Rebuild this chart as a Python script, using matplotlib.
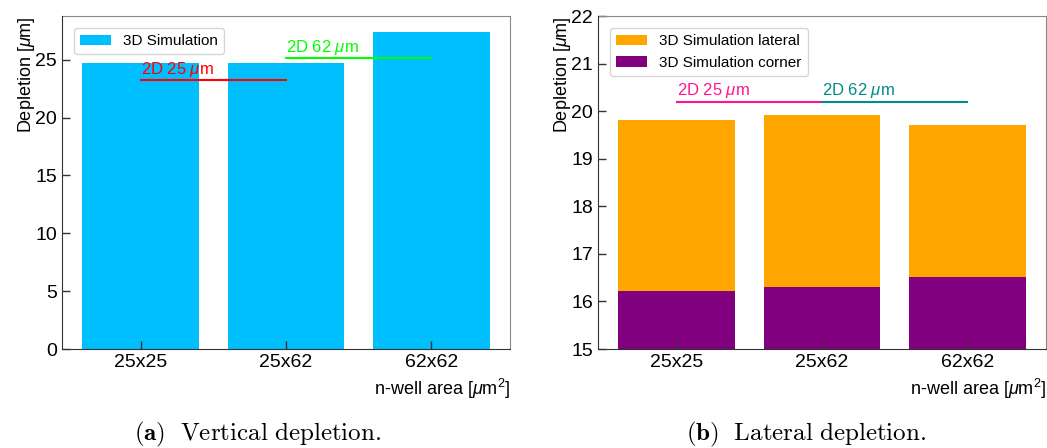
import matplotlib
matplotlib.use("Agg")
import matplotlib.pyplot as plt

plt.rcParams['font.family'] = ['Liberation Sans', 'DejaVu Sans']
plt.rcParams['mathtext.fontset'] = 'custom'
plt.rcParams['mathtext.rm'] = 'Liberation Sans'
plt.rcParams['mathtext.it'] = 'Liberation Sans:italic'
plt.rcParams['mathtext.bf'] = 'Liberation Sans:bold'

categories = ["25x25", "25x62", "62x62"]
vertical_3d = [24.7, 24.7, 27.4]
vert_2d_25 = 23.2
vert_2d_62 = 25.1
lateral_3d = [19.81, 19.92, 19.71]
corner_3d = [16.22, 16.30, 16.51]
lat_2d_25 = 20.2
lat_2d_62 = 20.2

fig = plt.figure(figsize=(10.47, 4.48), dpi=100)
ax1 = fig.add_axes([62/1047, 1-349/448, (510-62)/1047, (349-16)/448])
ax2 = fig.add_axes([598/1047, 1-349/448, (1046-598)/1047, (349-16)/448])

x = list(range(len(categories)))

# Left panel
ax1.bar(x, vertical_3d, width=0.8, color='#00BFFF', label='3D Simulation')
ax1.plot([x[0], x[1]], [vert_2d_25, vert_2d_25], color='red', lw=1.5)
ax1.text(x[0], vert_2d_25 + 0.1, r'2D 25 $\mu$m', color='red', fontsize=12,
         ha='left', va='bottom')
ax1.plot([x[1], x[2]], [vert_2d_62, vert_2d_62], color='#00FF00', lw=1.5)
ax1.text(x[1], vert_2d_62 + 0.1, r'2D 62 $\mu$m', color='#00FF00', fontsize=12,
         ha='left', va='bottom')
ax1.set_xlim(-0.54, 2.54)
ax1.set_ylim(0, 28.77)
ax1.set_yticks([0, 5, 10, 15, 20, 25])
ax1.set_ylabel(r'Depletion [$\mu$m]', fontsize=13, loc='top', labelpad=-1)
ax1.legend(loc='upper left', fontsize=11, frameon=True, fancybox=True,
           edgecolor='#cccccc', handlelength=2.0, borderaxespad=0.8)

# Right panel
ax2.bar(x, lateral_3d, width=0.8, color='#FFA500', label='3D Simulation lateral')
ax2.bar(x, corner_3d, width=0.8, color='#800080', label='3D Simulation corner')
ax2.plot([x[0], x[1]], [lat_2d_25, lat_2d_25], color='#FF1493', lw=1.5)
ax2.text(x[0], lat_2d_25 + 0.04, r'2D 25 $\mu$m', color='#FF1493', fontsize=12,
         ha='left', va='bottom')
ax2.plot([x[1], x[2]], [lat_2d_62, lat_2d_62], color='#008B8B', lw=1.5)
ax2.text(x[1], lat_2d_62 + 0.04, r'2D 62 $\mu$m', color='#008B8B', fontsize=12,
         ha='left', va='bottom')
ax2.set_xlim(-0.54, 2.54)
ax2.set_ylim(15, 22)
ax2.set_yticks([15, 16, 17, 18, 19, 20, 21, 22])
ax2.set_ylabel(r'Depletion [$\mu$m]', fontsize=13, loc='top', labelpad=-1)
ax2.legend(loc='upper left', fontsize=11, frameon=True, fancybox=True,
           edgecolor='#cccccc', handlelength=2.0, borderaxespad=0.8)

for ax in (ax1, ax2):
    ax.set_xticks(x)
    ax.set_xticklabels(categories)
    ax.tick_params(direction='in', labelsize=14, length=6, width=1, color='#333333')
    ax.set_xlabel(r'n-well area [$\mu$m$^2$]', fontsize=13, loc='right')
    for side in ('top', 'right'):
        ax.spines[side].set_color('#888888')
    for side in ('bottom', 'left'):
        ax.spines[side].set_color('#333333')
        ax.spines[side].set_zorder(3)

fig.text(258/1047, 1-440/448, r'$\mathbf{(a)}\ \ \mathrm{Vertical\ depletion.}$', ha='center',
         va='baseline', fontsize=18, math_fontfamily='cm')
fig.text(806/1047, 1-440/448, r'$\mathbf{(b)}\ \ \mathrm{Lateral\ depletion.}$', ha='center',
         va='baseline', fontsize=18, math_fontfamily='cm')

fig.savefig('out.png', dpi=100)
